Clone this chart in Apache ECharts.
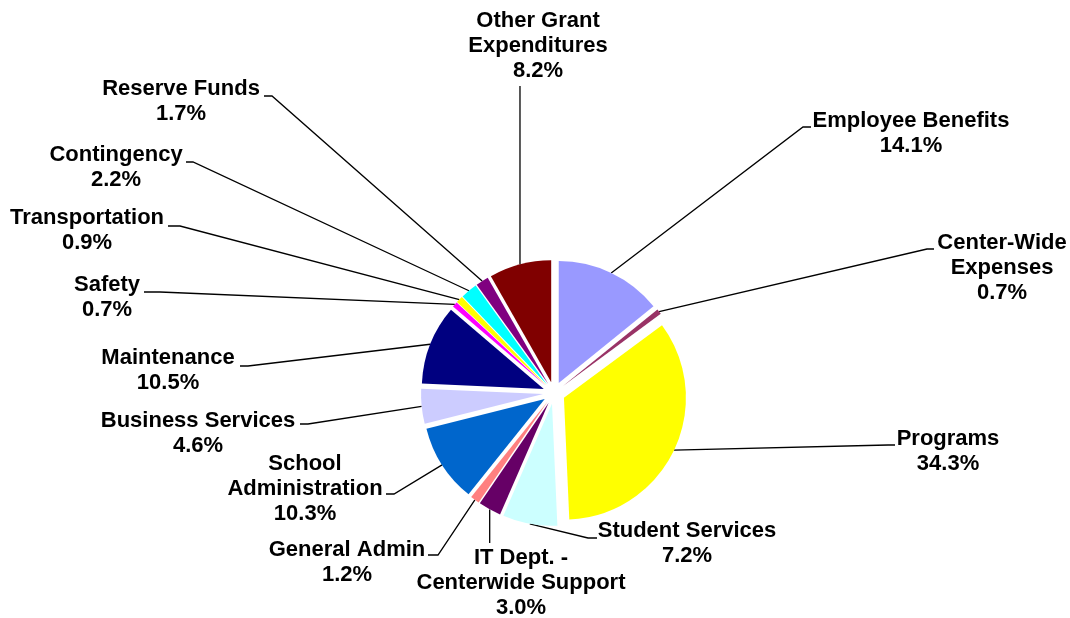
<!DOCTYPE html>
<html><head><meta charset="utf-8">
<script src="https://cdn.jsdelivr.net/npm/echarts@6/dist/echarts.min.js"></script>
<style>html,body{margin:0;padding:0;background:#fff}#c{width:1070px;height:618px}</style>
</head><body><div id="c"></div>
<script>
const categories = ['Employee Benefits','Center-Wide\nExpenses','Programs','Student Services','IT Dept. -\nCenterwide Support','General Admin','School\nAdministration','Business Services','Maintenance','Safety','Transportation','Contingency','Reserve Funds','Other Grant\nExpenditures'];
const values = [14.1, 0.7, 34.3, 7.2, 3.0, 1.2, 10.3, 4.6, 10.5, 0.7, 0.9, 2.2, 1.7, 8.2];
const colors = ['#9999FF','#993366','#FFFF00','#CCFFFF','#660066','#FF8080','#0066CC','#CCCCFF','#000080','#FF00FF','#FFFF00','#00FFFF','#800080','#800000'];

// layout (not data): pie geometry and label placement
const CX = 554, CY = 393, R = 122, EXPLODE = 11;
// label block centre x,y ; leader elbow x,y ; leader end x,y  (null = follow slice point x)
const labelPos = [
  [911,133.5, 803,127, 811,127],
  [1002,268, 927,249, 934,249],
  [948,451, 888,445, 895,445],
  [687,543.5, 588,538, 597,538],
  [521,583, null,540, null,543],
  [347,562, 438,555, 428,555],
  [305,489, 394,494, 386,494],
  [198,433, 308,424, 300,424],
  [168,370.5, 248,366, 240,366],
  [107,297.5, 160,292, 144,292],
  [87,230.5, 180,226, 168,226],
  [116,167.5, 193,162, 186,162],
  [181,101, 272,96, 264,96],
  [538,46, null,90, null,86]
];
const font = {fontFamily: 'Liberation Sans, Arial, sans-serif', fontWeight: 'bold', fontSize: 22, lineHeight: 25, color: '#000'};

const chart = echarts.init(document.getElementById('c'), null, {renderer:'canvas'});
chart.setOption({
  animation: false,
  backgroundColor: '#fff',
  series: [{
    // exploded slices
    type: 'pie',
    center: [CX, CY],
    radius: R,
    startAngle: 90,
    clockwise: true,
    selectedMode: 'multiple',
    selectedOffset: EXPLODE,
    silent: true,
    data: categories.map((n, i) => ({name: n, value: values[i], selected: true, itemStyle: {color: colors[i]}})),
    label: {show: false},
    labelLine: {show: false}
  }, {
    // labels and leader lines for the same slices
    type: 'pie',
    center: [CX, CY],
    radius: R,
    startAngle: 90,
    clockwise: true,
    silent: true,
    avoidLabelOverlap: false,
    data: categories.map((n, i) => ({name: n, value: values[i]})),
    itemStyle: {color: 'rgba(0,0,0,0)'},
    label: Object.assign({
      show: true,
      position: 'outside',
      formatter: p => p.name + '\n' + p.value.toFixed(1) + '%',
      align: 'center'
    }, font),
    labelLine: {show: true, length: 10, length2: 10, lineStyle: {color: '#000', width: 1.3}},
    labelLayout: function (params) {
      const p = labelPos[params.dataIndex];
      const s0 = params.labelLinePoints[0];
      const k = (R + EXPLODE) / R;
      const s = [CX + (s0[0] - CX) * k, CY + (s0[1] - CY) * k];
      const ex = p[2] == null ? s[0] : p[2];
      const fx = p[4] == null ? s[0] : p[4];
      return {
        x: p[0], y: p[1], align: 'center', verticalAlign: 'middle',
        labelLinePoints: [s, [ex, p[3]], [fx, p[5]]]
      };
    }
  }]
});
</script></body></html>
